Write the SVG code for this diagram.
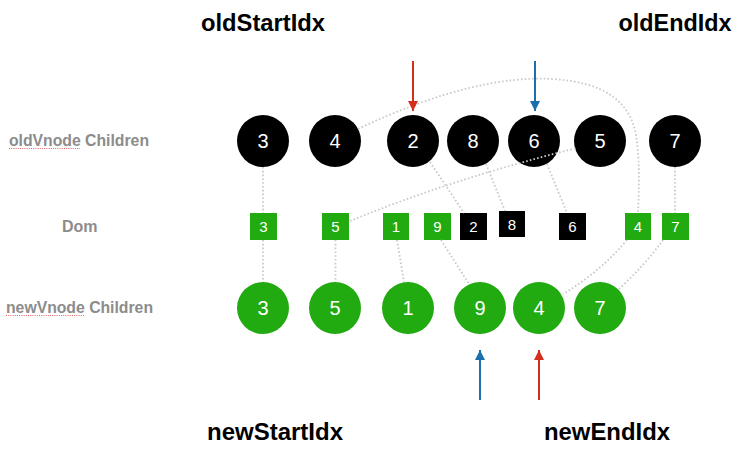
<svg xmlns="http://www.w3.org/2000/svg" width="754" height="468" viewBox="0 0 754 468">
<defs>
<style>
.title{font-family:"Liberation Sans",Arial,sans-serif;font-weight:bold;font-size:23px;fill:#000;text-anchor:middle}
.row{font-family:"Liberation Sans",Arial,sans-serif;font-weight:bold;font-size:16px;fill:#8c8c8c}
.old{fill:#000}
.new{fill:#22aa11}
.num{font-family:"Liberation Sans",Arial,sans-serif;font-size:20px;fill:#fff;text-anchor:middle}
.snum{font-family:"Liberation Sans",Arial,sans-serif;font-size:15px;fill:#fff;text-anchor:middle}
.conn{fill:none;stroke:#c9c9c9;stroke-width:1.8;stroke-dasharray:1.6 2.2}
.squig{fill:none;stroke:#e06060;stroke-width:1.2;stroke-dasharray:1 1.2}
</style>
<marker id="ahR" viewBox="0 0 10 10" refX="10" refY="5" markerWidth="10" markerHeight="10" markerUnits="userSpaceOnUse" orient="auto"><path d="M0,0 L10,5 L0,10 Z" fill="#d42e1c"/></marker>
<marker id="ahB" viewBox="0 0 10 10" refX="10" refY="5" markerWidth="10" markerHeight="10" markerUnits="userSpaceOnUse" orient="auto"><path d="M0,0 L10,5 L0,10 Z" fill="#1a70ae"/></marker>
</defs>
<rect width="754" height="468" fill="#fff"/>

<g id="labels">
<text class="title" x="263" y="31" textLength="124" lengthAdjust="spacingAndGlyphs">oldStartIdx</text>
<text class="title" x="675" y="31" textLength="113" lengthAdjust="spacingAndGlyphs">oldEndIdx</text>
<text class="title" x="275" y="440" textLength="136" lengthAdjust="spacingAndGlyphs">newStartIdx</text>
<text class="title" x="607" y="440" textLength="126" lengthAdjust="spacingAndGlyphs">newEndIdx</text>
<text class="row" x="9" y="146" textLength="140" lengthAdjust="spacingAndGlyphs">oldVnode Children</text>
<line class="squig" x1="9" y1="148.5" x2="80" y2="148.5"/>
<text class="row" x="62" y="232">Dom</text>
<text class="row" x="6" y="313" textLength="147" lengthAdjust="spacingAndGlyphs">newVnode Children</text>
<line class="squig" x1="6" y1="315.5" x2="84" y2="315.5"/>
</g>

<g id="old-3"><circle class="old" cx="263" cy="141" r="26"/><text class="num" x="263" y="148">3</text></g>
<g id="old-4"><circle class="old" cx="335" cy="141" r="26"/><text class="num" x="335" y="148">4</text></g>
<g id="old-2"><circle class="old" cx="413" cy="141" r="26"/><text class="num" x="413" y="148">2</text></g>
<g id="old-8"><circle class="old" cx="473" cy="141" r="26"/><text class="num" x="473" y="148">8</text></g>
<g id="old-6"><circle class="old" cx="534" cy="141" r="26"/><text class="num" x="534" y="148">6</text></g>
<g id="old-5"><circle class="old" cx="600" cy="141" r="26"/><text class="num" x="600" y="148">5</text></g>
<g id="old-7"><circle class="old" cx="675" cy="141" r="26"/><text class="num" x="675" y="148">7</text></g>

<g id="dom-3"><rect class="new" x="250" y="213" width="27" height="27"/><text class="snum" x="263.5" y="232">3</text></g>
<g id="dom-5"><rect class="new" x="322" y="213" width="27" height="27"/><text class="snum" x="335.5" y="232">5</text></g>
<g id="dom-1"><rect class="new" x="383" y="213" width="26" height="27"/><text class="snum" x="396" y="232">1</text></g>
<g id="dom-9"><rect class="new" x="424" y="213" width="27" height="27"/><text class="snum" x="437.5" y="232">9</text></g>
<g id="dom-2"><rect class="old" x="460" y="213" width="27" height="27"/><text class="snum" x="473.5" y="232">2</text></g>
<g id="dom-8"><rect class="old" x="499" y="211" width="26" height="26"/><text class="snum" x="512" y="229.5">8</text></g>
<g id="dom-6"><rect class="old" x="559" y="213" width="27" height="27"/><text class="snum" x="572.5" y="232">6</text></g>
<g id="dom-4"><rect class="new" x="625" y="213" width="26" height="27"/><text class="snum" x="638" y="232">4</text></g>
<g id="dom-7"><rect class="new" x="662" y="213" width="27" height="27"/><text class="snum" x="675.5" y="232">7</text></g>

<g id="new-3"><circle class="new" cx="263" cy="308" r="26"/><text class="num" x="263" y="315">3</text></g>
<g id="new-5"><circle class="new" cx="335" cy="308" r="26"/><text class="num" x="335" y="315">5</text></g>
<g id="new-1"><circle class="new" cx="408" cy="308" r="26"/><text class="num" x="408" y="315">1</text></g>
<g id="new-9"><circle class="new" cx="480" cy="308" r="26"/><text class="num" x="480" y="315">9</text></g>
<g id="new-4"><circle class="new" cx="539" cy="308" r="26"/><text class="num" x="539" y="315">4</text></g>
<g id="new-7"><circle class="new" cx="600" cy="308" r="26"/><text class="num" x="600" y="315">7</text></g>

<g id="connectors">
<line class="conn" x1="263" y1="167" x2="263" y2="213"/>
<line class="conn" x1="263" y1="240" x2="263" y2="282"/>
<line class="conn" x1="335.5" y1="240" x2="335.5" y2="282"/>
<line class="conn" x1="397" y1="240" x2="404" y2="282"/>
<line class="conn" x1="441" y1="240" x2="469" y2="284"/>
<line class="conn" x1="430" y1="162" x2="464" y2="213"/>
<line class="conn" x1="486" y1="164" x2="505" y2="211"/>
<line class="conn" x1="547" y1="164" x2="567" y2="213"/>
<line class="conn" x1="675" y1="167" x2="675" y2="213"/>
<path class="conn" d="M350,221 Q455,178 577,148"/>
<path class="conn" d="M358,129 C440,90 505,76 552,79 C605,82 630,102 636,135 C640,160 639,190 638,213"/>
<path class="conn" d="M627,240 Q600,272 563,294"/>
<path class="conn" d="M663,240 Q645,265 619,289"/>
</g>

<g id="pointers">
<line x1="413" y1="61" x2="413" y2="111" stroke="#d42e1c" stroke-width="2" marker-end="url(#ahR)"/>
<line x1="535" y1="61" x2="535" y2="111" stroke="#1a70ae" stroke-width="2" marker-end="url(#ahB)"/>
<line x1="480" y1="400" x2="480" y2="350" stroke="#1a70ae" stroke-width="2" marker-end="url(#ahB)"/>
<line x1="539" y1="400" x2="539" y2="350" stroke="#d42e1c" stroke-width="2" marker-end="url(#ahR)"/>
</g>
</svg>
